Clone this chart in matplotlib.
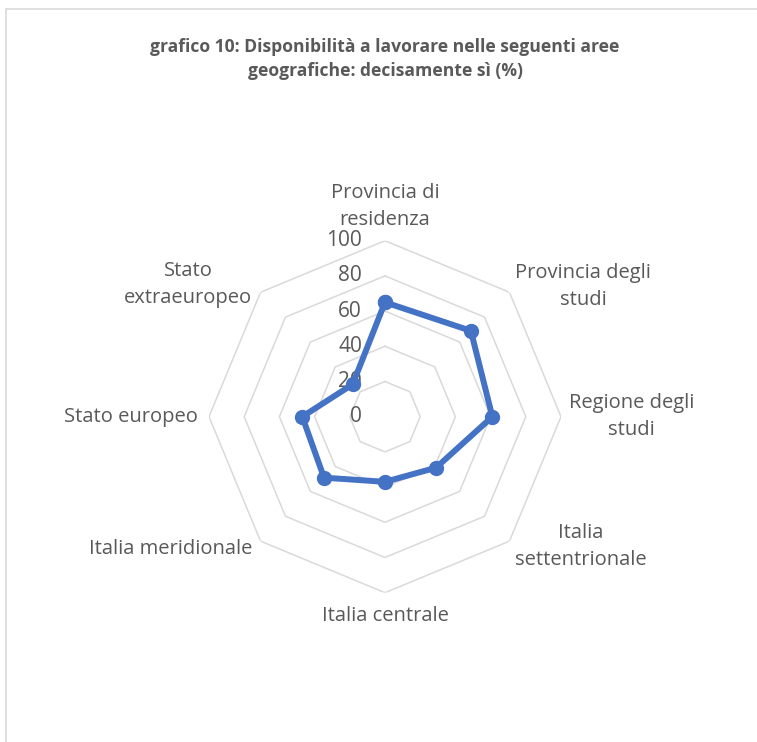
import numpy as np
import matplotlib
matplotlib.use('Agg')
import matplotlib.pyplot as plt
from matplotlib.patches import Rectangle
from matplotlib.transforms import offset_copy

plt.rcParams['font.family'] = ['Open Sans', 'DejaVu Sans']

# data
categories = ['Provincia di\nresidenza', 'Provincia degli\nstudi', 'Regione degli\nstudi',
              'Italia\nsettentrionale', 'Italia centrale', 'Italia meridionale',
              'Stato europeo', 'Stato\nextraeuropeo']
values = [65, 69, 61, 41, 37, 49, 47, 26]
ticks = [0, 20, 40, 60, 80, 100]
title = 'grafico 10: Disponibilità a lavorare nelle seguenti aree\ngeografiche: decisamente sì (%)'

text_col = '#595959'
grid_col = '#d9d9d9'
line_col = '#4472c4'

W, H = 757, 742
fig = plt.figure(figsize=(W / 100, H / 100), dpi=100)

# chart border (light grey frame, cut off at right/bottom)
fig.patches.append(Rectangle((6 / W, -0.1), 1.2, 1 - 9 / H + 0.1, transform=fig.transFigure,
                             fill=False, edgecolor=grid_col, linewidth=1.2))

fig.text(385 / W, 1 - 59 / H, title, ha='center', va='center', multialignment='center',
         fontsize=12.6, fontweight='bold', color=text_col, linespacing=1.45)

cx, cy, R = 385, 416.7, 176
ax = fig.add_axes([(cx - R) / W, (H - cy - R) / H, 2 * R / W, 2 * R / H], projection='polar')
ax.set_theta_zero_location('N')
ax.set_theta_direction(-1)
ax.set_ylim(0, 100)
ax.grid(False)
ax.spines['polar'].set_visible(False)
ax.set_xticks([])
ax.set_yticks([])
ax.patch.set_alpha(0)

n = len(categories)
angles = np.arange(n) * 2 * np.pi / n
closed = np.append(angles, angles[0])

# octagonal grid
for t in ticks[1:]:
    ax.plot(closed, [t] * (n + 1), color=grid_col, linewidth=1.1, zorder=1)

# radial tick labels
lab_tr = offset_copy(ax.transData, fig=fig, x=-23, y=0, units='dots')
for t in ticks:
    ax.text(0, t, str(t), transform=lab_tr, ha='right', va='center',
            fontsize=15, color=text_col, zorder=2)

# data series
vals = values + values[:1]
ax.plot(closed, vals, color=line_col, linewidth=4.3, marker='o', markersize=10,
        zorder=3, clip_on=False)

# category labels
for ang, lab in zip(angles, categories):
    deg = np.degrees(ang)
    if deg == 0:
        ha, va, r = 'center', 'bottom', 106
    elif deg == 180:
        ha, va, r = 'center', 'top', 107.5
    elif deg < 180:
        ha, va, r = 'left', 'center', 104.5
    else:
        ha, va, r = 'right', 'center', 106.5
    ax.text(ang, r, lab, ha=ha, va=va, multialignment='center', fontsize=14.5,
            color=text_col, linespacing=1.45)

fig.savefig('out.png', dpi=100)
